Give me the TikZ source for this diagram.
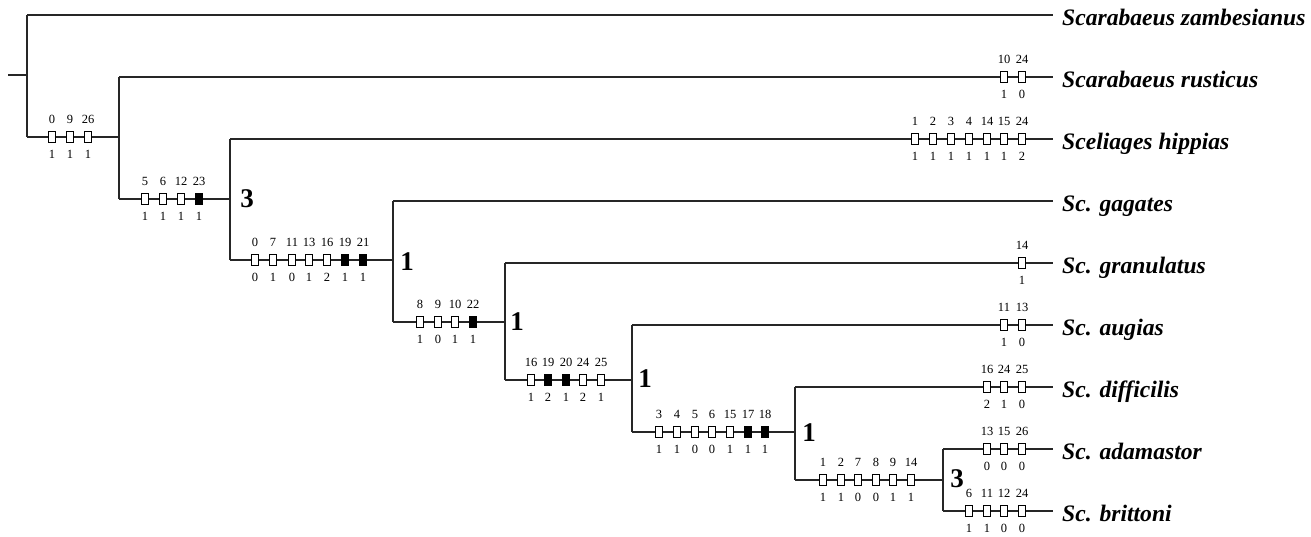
\documentclass[tikz,border=0pt]{standalone}
\usepackage{fontspec}
\setmainfont{Liberation Serif}
\newcommand\charmarks[3]{%
  \foreach \x/\t/\b/\s [count=\i] in {#3} {
    \node[\s] (#2\i) at (\x,#1) {};
    \node[num] (#2\i t) at (\x,#1-18) {\t};
    \node[num] (#2\i b) at (\x,#1+17) {\b};
  }}
\begin{document}
\begin{tikzpicture}[x=1pt,y=-1pt,
  br/.style={line width=1.1pt, black!85},
  ob/.style={draw, line width=0.9pt, fill=white, minimum width=7.5pt, minimum height=11pt, inner sep=0pt},
  fb/.style={ob, fill=black},
  num/.style={font=\fontsize{12.5}{13}\selectfont, inner sep=0pt},
  big/.style={font=\fontsize{27}{27}\selectfont\bfseries, inner sep=0pt},
  taxon/.style={font=\fontsize{23.6}{24}\selectfont\bfseries\itshape, anchor=base west, inner sep=0pt}]
\useasboundingbox (0,0) rectangle (1311,536);
% internal node coordinates
\coordinate (r0) at (8,75);
\coordinate (n1) at (27,75);
\coordinate (n1a) at (27,15);   \coordinate (n1b) at (27,137);
\coordinate (n2a) at (119,77);  \coordinate (n2b) at (119,199);
\coordinate (n3a) at (230,139); \coordinate (n3b) at (230,260);
\coordinate (n4a) at (393,201); \coordinate (n4b) at (393,322);
\coordinate (n5a) at (505,263); \coordinate (n5b) at (505,380);
\coordinate (n6a) at (632,325); \coordinate (n6b) at (632,432);
\coordinate (n7a) at (795,387); \coordinate (n7b) at (795,480);
\coordinate (n8a) at (943,449); \coordinate (n8b) at (943,511);
% leaf ends
\coordinate (e1) at (1053,15);
\coordinate (e2) at (1053,77);
\coordinate (e3) at (1053,139);
\coordinate (e4) at (1053,201);
\coordinate (e5) at (1053,263);
\coordinate (e6) at (1053,325);
\coordinate (e7) at (1053,387);
\coordinate (e8) at (1053,449);
\coordinate (e9) at (1053,511);
% taxa
\node[taxon] (t1) at (1062,25) {Scarabaeus zambesianus};
\node[taxon] (t2) at (1062,87) {Scarabaeus rusticus};
\node[taxon] (t3) at (1062,149) {Sceliages hippias};
\node[taxon] (t4) at (1062,211) {Sc. gagates};
\node[taxon] (t5) at (1062,273) {Sc. granulatus};
\node[taxon] (t6) at (1062,335) {Sc. augias};
\node[taxon] (t7) at (1062,397) {Sc. difficilis};
\node[taxon] (t8) at (1062,459) {Sc. adamastor};
\node[taxon] (t9) at (1062,521) {Sc. brittoni};
% branches
\draw[br] (r0) -- (n1);
\draw[br] (n1a) -- (n1b);
\draw[br] (n1a) -- (e1);
\draw[br] (n1b) -- (n2b |- n1b);
\draw[br] (n2a) -- (n2b);
\draw[br] (n2a) -- (e2);
\draw[br] (n2b) -- (n3b |- n2b);
\draw[br] (n3a) -- (n3b);
\draw[br] (n3a) -- (e3);
\draw[br] (n3b) -- (n4b |- n3b);
\draw[br] (n4a) -- (n4b);
\draw[br] (n4a) -- (e4);
\draw[br] (n4b) -- (n5b |- n4b);
\draw[br] (n5a) -- (n5b);
\draw[br] (n5a) -- (e5);
\draw[br] (n5b) -- (n6b |- n5b);
\draw[br] (n6a) -- (n6b);
\draw[br] (n6a) -- (e6);
\draw[br] (n6b) -- (n7b |- n6b);
\draw[br] (n7a) -- (n7b);
\draw[br] (n7a) -- (e7);
\draw[br] (n7b) -- (n8b |- n7b);
\draw[br] (n8a) -- (n8b);
\draw[br] (n8a) -- (e8);
\draw[br] (n8b) -- (e9);
% character markers
\charmarks{137}{ma}{52/0/1/ob, 70/9/1/ob, 88/26/1/ob}
\charmarks{199}{mb}{145/5/1/ob, 163/6/1/ob, 181/12/1/ob, 199/23/1/fb}
\charmarks{260}{mc}{255/0/0/ob, 273/7/1/ob, 292/11/0/ob, 309/13/1/ob, 327/16/2/ob, 345/19/1/fb, 363/21/1/fb}
\charmarks{322}{md}{420/8/1/ob, 438/9/0/ob, 455/10/1/ob, 473/22/1/fb}
\charmarks{380}{me}{531/16/1/ob, 548/19/2/fb, 566/20/1/fb, 583/24/2/ob, 601/25/1/ob}
\charmarks{432}{mf}{659/3/1/ob, 677/4/1/ob, 695/5/0/ob, 712/6/0/ob, 730/15/1/ob, 748/17/1/fb, 765/18/1/fb}
\charmarks{480}{mg}{823/1/1/ob, 841/2/1/ob, 858/7/0/ob, 876/8/0/ob, 893/9/1/ob, 911/14/1/ob}
\charmarks{77}{mh}{1004/10/1/ob, 1022/24/0/ob}
\charmarks{139}{mi}{915/1/1/ob, 933/2/1/ob, 951/3/1/ob, 969/4/1/ob, 987/14/1/ob, 1004/15/1/ob, 1022/24/2/ob}
\charmarks{263}{mj}{1022/14/1/ob}
\charmarks{325}{mk}{1004/11/1/ob, 1022/13/0/ob}
\charmarks{387}{ml}{987/16/2/ob, 1004/24/1/ob, 1022/25/0/ob}
\charmarks{449}{mm}{987/13/0/ob, 1004/15/0/ob, 1022/26/0/ob}
\charmarks{511}{mn}{969/6/1/ob, 987/11/1/ob, 1004/12/0/ob, 1022/24/0/ob}
% support values
\node[big] (s1) at (247,199) {3};
\node[big] (s2) at (407,262) {1};
\node[big] (s3) at (517,322) {1};
\node[big] (s4) at (645,379) {1};
\node[big] (s5) at (809,433) {1};
\node[big] (s6) at (957,479) {3};
\end{tikzpicture}
\end{document}
